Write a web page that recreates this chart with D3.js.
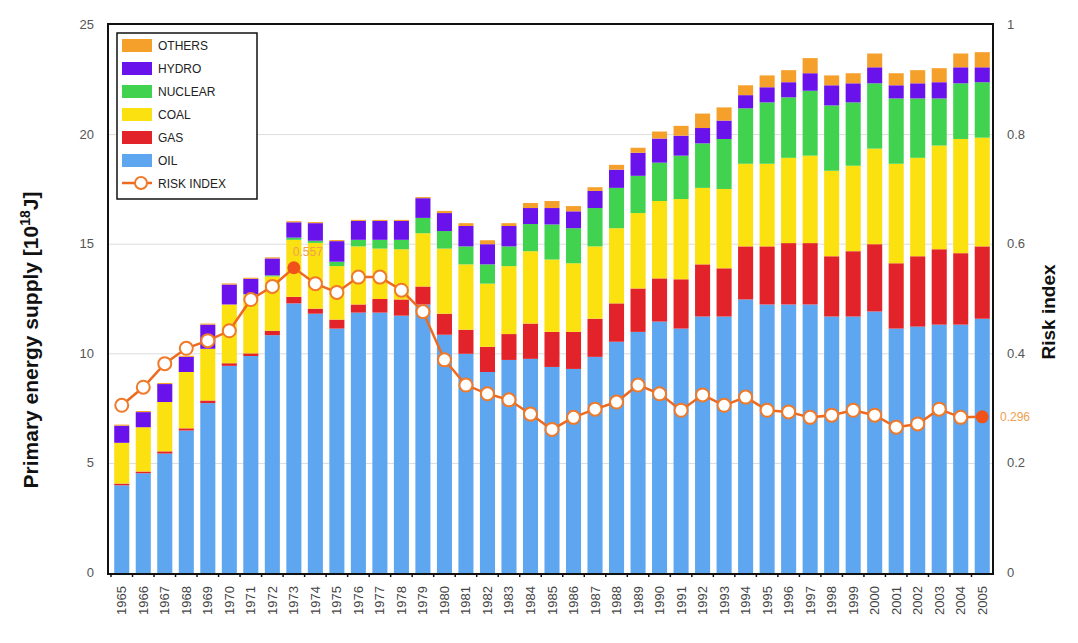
<!DOCTYPE html>
<html><head><meta charset="utf-8">
<script src="https://cdn.jsdelivr.net/npm/d3@7"></script>
<style>body{margin:0;background:#fff}svg{display:block}</style>
</head><body><svg id="c" width="1078" height="643"></svg>
<script>
const years = d3.range(1965, 2006).map(String);
const oil =     [4.0,4.55,5.45,6.5,7.75,9.45,9.9,10.85,12.3,11.83,11.15,11.88,11.88,11.74,12.25,10.87,10.0,9.17,9.72,9.77,9.4,9.31,9.86,10.55,11.0,11.47,11.15,11.7,11.7,12.48,12.25,12.25,12.25,11.7,11.7,11.93,11.15,11.24,11.33,11.33,11.6];
const gas =     [0.08,0.08,0.1,0.1,0.12,0.12,0.12,0.2,0.3,0.23,0.41,0.37,0.62,0.74,0.82,0.96,1.1,1.15,1.18,1.61,1.6,1.69,1.74,1.75,1.98,1.97,2.25,2.38,2.2,2.42,2.65,2.8,2.8,2.75,2.98,3.07,2.98,3.21,3.44,3.26,3.3];
const coal =    [1.86,2.02,2.25,2.57,2.36,2.68,2.68,2.48,2.6,3.0,2.44,2.65,2.3,2.29,2.43,2.97,2.98,2.88,3.1,3.3,3.3,3.13,3.3,3.43,3.44,3.53,3.66,3.49,3.62,3.77,3.77,3.89,3.99,3.9,3.9,4.36,4.54,4.49,4.73,5.21,4.96];
const nuclear = [0,0,0,0,0,0,0.02,0.05,0.1,0.1,0.2,0.3,0.4,0.43,0.7,0.8,0.82,0.88,0.9,1.24,1.6,1.6,1.75,1.84,1.7,1.75,1.98,2.03,2.28,2.53,2.8,2.76,2.96,2.98,2.89,2.98,2.98,2.71,2.15,2.54,2.53];
const hydro =   [0.78,0.69,0.82,0.69,1.1,0.91,0.7,0.77,0.7,0.8,0.94,0.86,0.86,0.86,0.9,0.82,0.93,0.92,0.93,0.73,0.75,0.77,0.78,0.83,1.05,1.1,0.91,0.7,0.84,0.6,0.69,0.69,0.8,0.92,0.87,0.73,0.6,0.69,0.74,0.73,0.68];
const others =  [0.05,0.05,0.05,0.05,0.05,0.05,0.05,0.05,0.05,0.05,0.05,0.05,0.05,0.05,0.05,0.1,0.13,0.18,0.13,0.23,0.32,0.24,0.17,0.22,0.23,0.32,0.45,0.66,0.6,0.45,0.54,0.55,0.69,0.45,0.46,0.63,0.55,0.6,0.64,0.63,0.69];
const risk =    [0.306,0.339,0.382,0.41,0.424,0.442,0.499,0.523,0.557,0.528,0.512,0.54,0.54,0.516,0.477,0.389,0.343,0.327,0.316,0.29,0.262,0.284,0.299,0.312,0.343,0.327,0.297,0.325,0.306,0.321,0.297,0.294,0.284,0.288,0.297,0.288,0.266,0.272,0.299,0.284,0.285];
const seriesNames = ["OIL","GAS","COAL","NUCLEAR","HYDRO","OTHERS"];
const seriesColors = ["#5ea6f0","#e2232a","#fbe10f","#41d34f","#6a12ec","#f6a02c"];
const leftTicks = [0,5,10,15,20,25];
const rightTicks = [0,0.2,0.4,0.6,0.8,1];
const highlights = [{year:"1973", label:"0.557"},{year:"2005", label:"0.296"}];

const svg = d3.select("#c");
const L = 108, R = 993, T = 24, B = 574;
const x = d3.scaleBand().domain(years).range([L+3, R]).paddingInner(0.3).paddingOuter(0.15);
const y = d3.scaleLinear().domain([0,25]).range([B-1, T+1]);
const yr = d3.scaleLinear().domain([0,1]).range([B-1, T+1]);
const FONT = "Liberation Sans, Arial, sans-serif";

// grid
svg.append("g").selectAll("line").data(leftTicks.filter(d=>d>0&&d<25)).join("line")
  .attr("x1",L).attr("x2",R).attr("y1",d=>y(d)).attr("y2",d=>y(d))
  .attr("stroke","#dcdcdc").attr("stroke-width",1);

// stacked bars
const table = years.map((yv,i)=>({year:yv, OIL:oil[i], GAS:gas[i], COAL:coal[i], NUCLEAR:nuclear[i], HYDRO:hydro[i], OTHERS:others[i]}));
const stack = d3.stack().keys(seriesNames)(table);
svg.append("g").selectAll("g").data(stack).join("g")
  .attr("fill",(d,i)=>seriesColors[i])
  .selectAll("rect").data(d=>d).join("rect")
  .attr("x",d=>x(d.data.year)).attr("width",x.bandwidth())
  .attr("y",d=>y(d[1])).attr("height",d=>Math.max(0,y(d[0])-y(d[1])));

// risk line
const cx = d=>x(d)+x.bandwidth()/2;
const line = d3.line().x((d,i)=>cx(years[i])).y(d=>yr(d));
svg.append("path").datum(risk).attr("d",line).attr("fill","none")
  .attr("stroke","#ee6a1e").attr("stroke-width",2.5);
const hl = highlights.map(h=>h.year);
svg.append("g").selectAll("circle").data(risk).join("circle")
  .attr("cx",(d,i)=>cx(years[i])).attr("cy",d=>yr(d))
  .attr("r",(d,i)=>hl.includes(years[i])?5.5:6.5)
  .attr("fill",(d,i)=>hl.includes(years[i])?"#f0521a":"#fff")
  .attr("stroke",(d,i)=>hl.includes(years[i])?"#f0521a":"#ee7a2a")
  .attr("stroke-width",2);

// annotation labels
svg.append("text").attr("x",cx("1973")+14).attr("y",yr(risk[years.indexOf("1973")])-12)
  .attr("text-anchor","middle").attr("font-family",FONT).attr("font-size",12)
  .attr("fill","#f0a050").text(highlights[0].label);
svg.append("text").attr("x",R+7).attr("y",yr(risk[years.indexOf("2005")])+4)
  .attr("font-family",FONT).attr("font-size",12)
  .attr("fill","#f0a050").text(highlights[1].label);

// frame
svg.append("rect").attr("x",L).attr("y",T).attr("width",R-L).attr("height",B-T)
  .attr("fill","none").attr("stroke","#111").attr("stroke-width",2);
// bottom ticks
svg.append("g").selectAll("line").data(years).join("line")
  .attr("x1",d=>x(d)-x.step()*0.15).attr("x2",d=>x(d)-x.step()*0.15)
  .attr("y1",B).attr("y2",B+3).attr("stroke","#111").attr("stroke-width",1.5);

// left ticks
svg.append("g").selectAll("text").data(leftTicks).join("text")
  .attr("x",94).attr("y",d=>y(d)+4).attr("text-anchor","end")
  .attr("font-family",FONT).attr("font-size",13).attr("fill","#555")
  .text(d=>d);
// right ticks
svg.append("g").selectAll("text").data(rightTicks).join("text")
  .attr("x",1007).attr("y",d=>yr(d)+4).attr("text-anchor","start")
  .attr("font-family",FONT).attr("font-size",13).attr("fill","#555")
  .text(d=>d3.format("~g")(d));
// x labels
svg.append("g").selectAll("text").data(years).join("text")
  .attr("transform",d=>`translate(${cx(d)+4.5},${586}) rotate(-90)`)
  .attr("text-anchor","end")
  .attr("font-family",FONT).attr("font-size",13).attr("fill","#444")
  .text(d=>d);

// axis titles
const lt = svg.append("text").attr("transform","translate(38,340) rotate(-90)")
  .attr("text-anchor","middle").attr("font-family",FONT)
  .attr("font-size",21).attr("font-weight","bold").attr("fill","#111");
lt.append("tspan").text("Primary energy supply [10");
lt.append("tspan").attr("dy",-8).attr("font-size",14).text("18");
lt.append("tspan").attr("dy",8).text("J]");
svg.append("text").attr("transform","translate(1055,312) rotate(-90)")
  .attr("text-anchor","middle").attr("font-family",FONT)
  .attr("font-size",19).attr("font-weight","bold").attr("fill","#111").text("Risk index");

// legend
const lg = svg.append("g").attr("transform","translate(117,33)");
lg.append("rect").attr("width",140).attr("height",166).attr("fill","#fff")
  .attr("stroke","#111").attr("stroke-width",1.5);
const legendItems = seriesNames.slice().reverse();
legendItems.forEach((n,i)=>{
  const ci = seriesNames.indexOf(n);
  lg.append("rect").attr("x",5).attr("y",6+i*23).attr("width",30).attr("height",13)
    .attr("fill",seriesColors[ci]);
  lg.append("text").attr("x",41).attr("y",17+i*23).attr("font-family",FONT)
    .attr("font-size",12).attr("fill","#222").text(n);
});
const ry = 6+6*23+6;
lg.append("line").attr("x1",5).attr("x2",35).attr("y1",ry).attr("y2",ry)
  .attr("stroke","#ee6a1e").attr("stroke-width",2.5);
lg.append("circle").attr("cx",24).attr("cy",ry).attr("r",6).attr("fill","#fff")
  .attr("stroke","#ee7a2a").attr("stroke-width",2);
lg.append("text").attr("x",41).attr("y",ry+5).attr("font-family",FONT)
  .attr("font-size",12).attr("fill","#222").text("RISK INDEX");
</script></body></html>
